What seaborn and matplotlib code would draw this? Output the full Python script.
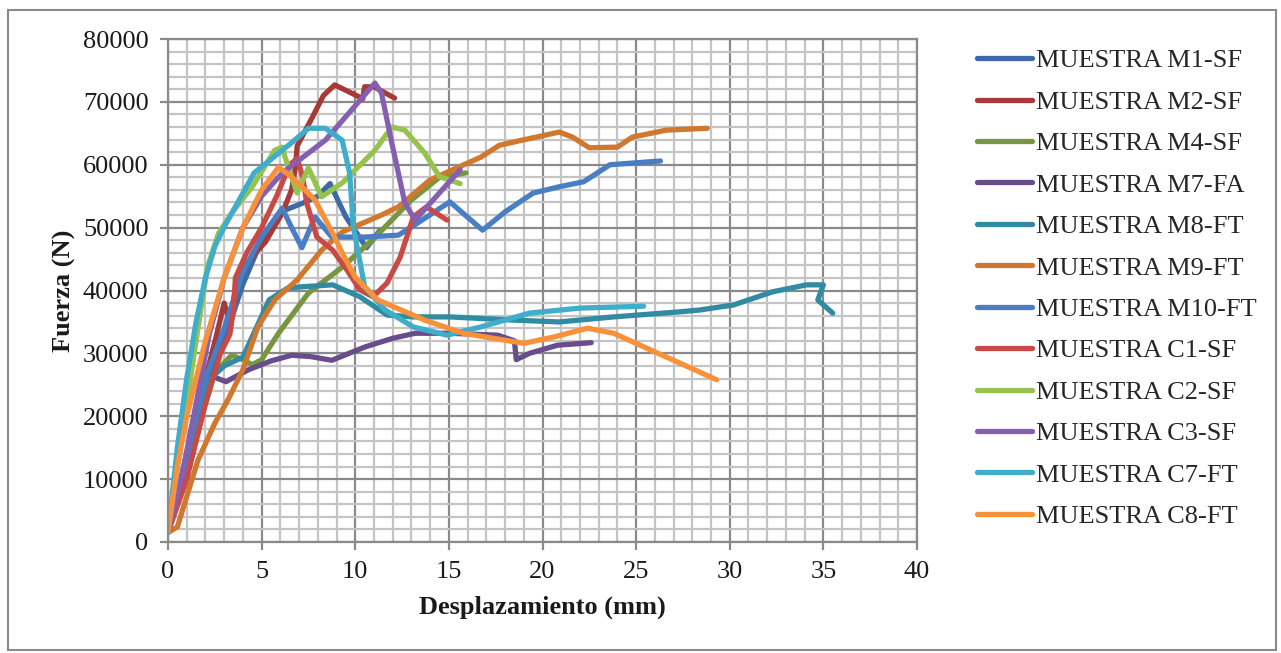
import matplotlib
matplotlib.use("Agg")
import matplotlib.pyplot as plt
import matplotlib.patches as mpatches
from matplotlib.ticker import MultipleLocator
import seaborn as sns
import numpy as np
import pandas as pd

# curvas fuerza-desplazamiento
series = [
    "MUESTRA M1-SF", "MUESTRA M2-SF", "MUESTRA M4-SF", "MUESTRA M7-FA",
    "MUESTRA M8-FT", "MUESTRA M9-FT", "MUESTRA M10-FT", "MUESTRA C1-SF",
    "MUESTRA C2-SF", "MUESTRA C3-SF", "MUESTRA C7-FT", "MUESTRA C8-FT",
]

m1_x = [0, 1, 2, 3, 4, 5, 6, 7.2, 8.0, 8.65, 9.5, 10.6, 11.3]
m1_y = [1500, 14000, 24000, 32000, 41000, 48000, 52500, 53900, 55000, 57000, 51700, 46800, 49500]

m2_x = [0, 1, 2, 2.6, 3.0, 3.3, 3.7, 4.5, 5.2, 6.1, 6.6, 6.8, 6.9, 7.7, 8.3, 8.9, 9.8, 10.4, 10.5, 11.0, 12.1]
m2_y = [1500, 13000, 26000, 33000, 38000, 35000, 42000, 45500, 47700, 52300, 56000, 59500, 63000,
        67500, 71000, 72700, 71400, 70500, 72400, 72400, 70600]

m4_x = [0, 1, 2, 2.5, 3.4, 4.0, 4.5, 5.0, 5.9, 7.5, 9.3, 10.9, 13.0, 14.5, 15.9]
m4_y = [1500, 12000, 22000, 27000, 29700, 29000, 28200, 29000, 33200, 39600, 43700, 48000, 54400, 58000, 58700]

m7_x = [0, 0.8, 1.5, 2.0, 2.4, 3.1, 4.3, 5.5, 6.6, 7.6, 8.75, 10.5, 12.0, 13.2, 15.0, 17.6, 18.5, 18.6,
        19.3, 20.8, 22.6]
m7_y = [1500, 10000, 19000, 24500, 26300, 25500, 27400, 28800, 29700, 29500, 28900, 31000, 32400, 33200,
        33200, 32900, 32000, 29000, 30000, 31300, 31700]

m8_x = [0, 1, 2.2, 3.0, 4.0, 5.4, 6.4, 7.2, 8.8, 10.25, 11.7, 13.1, 15.05, 18.4, 20.9, 23.8, 27.3, 28.4,
        30.2, 32.3, 34.1, 35.0, 34.7, 35.5]
m8_y = [1500, 13000, 25800, 28000, 29400, 38500, 40400, 40600, 40900, 39000, 36100, 35800, 35800, 35300,
        35000, 35800, 36600, 36900, 37700, 39800, 40900, 40900, 38500, 36400]

m9_x = [0, 0.5, 1.6, 2.5, 3.2, 4.0, 4.8, 5.7, 6.9, 8.2, 9.3, 11.4, 12.3, 14.0, 16.7, 17.7, 19.5, 20.9,
        21.6, 22.5, 24.0, 24.8, 26.6, 28.8]
m9_y = [1500, 2400, 13000, 18900, 22600, 27400, 34200, 38500, 41700, 46400, 49300, 52000, 53300, 57600,
        61200, 63100, 64300, 65200, 64400, 62700, 62800, 64400, 65500, 65800]

m10_x = [0, 1, 2, 3, 4, 5, 6.1, 6.6, 7.15, 7.85, 8.75, 10.5, 12.3, 13.0, 15.05, 16.8, 18.0, 19.5, 20.9,
         22.2, 23.6, 26.3]
m10_y = [1500, 13000, 26000, 34000, 43000, 48500, 53100, 50000, 46800, 51700, 48500, 48500, 48800, 50100,
         54100, 49600, 52500, 55500, 56500, 57300, 60000, 60600]

c1_x = [0, 1, 2, 2.8, 3.3, 3.5, 3.6, 4.2, 5.0, 5.8, 6.5, 6.9, 7.2, 7.4, 7.95, 8.8, 9.55, 10.25, 10.95,
        11.7, 12.4, 13.1, 13.8, 14.9]
c1_y = [1500, 10000, 22000, 30000, 33000, 37000, 42000, 46000, 50000, 55000, 60000, 61000, 58000, 54000,
        48500, 46400, 43300, 40100, 39000, 41200, 45300, 51700, 53300, 51200]

c2_x = [0, 0.5, 1, 1.5, 2.1, 2.7, 3.4, 4.5, 5.7, 6.1, 6.25, 6.9, 7.5, 8.2, 9.3, 11.05, 11.95, 12.65,
        13.7, 14.5, 15.6]
c2_y = [1500, 12000, 22000, 32000, 43700, 49100, 52300, 56500, 62300, 62800, 61200, 55500, 59500, 54900,
        57100, 62300, 66000, 65500, 61900, 58100, 57000]

c3_x = [0, 0.7, 1.5, 2.2, 3.0, 4.0, 5.0, 6.1, 8.4, 9.8, 11.05, 11.4, 11.95, 12.65, 13.2, 15.6]
c3_y = [1500, 10000, 22000, 33000, 42000, 50000, 55000, 58700, 63900, 68700, 73000, 71400, 63500, 53900,
        51200, 59200]

c7_x = [0, 0.5, 1, 1.5, 2, 2.5, 3.0, 4.6, 6.6, 7.5, 8.4, 9.3, 9.7, 9.9, 10.5, 11.6, 13.1, 14.9, 16.7,
        19.3, 22.0, 25.4]
c7_y = [1500, 15000, 26000, 35000, 42000, 47000, 50100, 58700, 63500, 65800, 65800, 63900, 58700, 50100,
        40600, 36900, 34200, 32900, 34200, 36400, 37200, 37500]

c8_x = [0, 0.5, 1, 2, 3, 4, 5, 5.9, 6.6, 7.85, 8.9, 9.3, 10.0, 11.2, 13.7, 15.75, 19.0, 20.6, 22.4,
        23.8, 27.3, 29.3]
c8_y = [1500, 12000, 20000, 32000, 42000, 50000, 56000, 59600, 58100, 54400, 48500, 46000, 42100, 38500,
        35300, 33200, 31600, 32600, 34000, 33200, 28500, 25800]

colores = ["#3C6AA6", "#A53A36", "#77963F", "#684C8C", "#318CA3", "#D0782E",
           "#4A7EC4", "#C84A46", "#96C24E", "#8560B0", "#40AECB", "#F7923A"]

xs = [m1_x, m2_x, m4_x, m7_x, m8_x, m9_x, m10_x, c1_x, c2_x, c3_x, c7_x, c8_x]
ys = [m1_y, m2_y, m4_y, m7_y, m8_y, m9_y, m10_y, c1_y, c2_y, c3_y, c7_y, c8_y]

frames = []
for nombre, x, y in zip(series, xs, ys):
    d = pd.DataFrame({"x": x, "y": y})
    d["serie"] = nombre
    frames.append(d)
df = pd.concat(frames, ignore_index=True)

# %%
sns.set_style("white")
plt.rcParams["font.family"] = ["Liberation Serif", "DejaVu Serif"]

fig = plt.figure(figsize=(12.81, 6.53), dpi=100)
ax = fig.add_axes([168 / 1281, 1 - 542 / 653, (917 - 168) / 1281, (542 - 39) / 653])

sns.lineplot(data=df, x="x", y="y", hue="serie", hue_order=series, palette=colores,
             sort=False, estimator=None, linewidth=3.8, ax=ax,
             solid_capstyle="round", solid_joinstyle="round")

ax.set_xlim(0, 40)
ax.set_ylim(0, 80000)
ax.xaxis.set_major_locator(MultipleLocator(5))
ax.xaxis.set_minor_locator(MultipleLocator(1))
ax.yaxis.set_major_locator(MultipleLocator(10000))
ax.yaxis.set_minor_locator(MultipleLocator(2000))
ax.grid(which="major", color="#8a8a8a", linewidth=1.6)
ax.grid(which="minor", color="#c4c4c4", linewidth=1.6)
ax.set_axisbelow(True)
for s in ax.spines.values():
    s.set_color("#8a8a8a")
    s.set_linewidth(1.6)

ax.tick_params(axis="both", which="major", direction="out", length=6, width=1.6,
               color="#8a8a8a", labelsize=19, labelcolor="#1a1a1a", pad=8)
ax.tick_params(which="minor", length=0)
ax.tick_params(axis="x", bottom=True)
ax.tick_params(axis="y", left=True)

ax.set_xlabel("Desplazamiento (mm)", fontsize=19, fontweight="bold", color="#1a1a1a", labelpad=9)
ax.set_ylabel("Fuerza (N)", fontsize=19, fontweight="bold", color="#1a1a1a", labelpad=5)

h, l = ax.get_legend_handles_labels()
ax.get_legend().remove()
fig.legend(h, l, loc="upper left", bbox_to_anchor=(977 / 1281, 1 - 49 / 653), frameon=False,
           fontsize=19, handlelength=2.1, handletextpad=0.15, labelspacing=0.68,
           borderaxespad=0, borderpad=0)

fig.patches.append(mpatches.Rectangle((8 / 1281, 3 / 653), 1268 / 1281, 640 / 653,
                                      transform=fig.transFigure, fill=False,
                                      edgecolor="#8a8a8a", linewidth=1.5))

fig.savefig("out.png", dpi=100)
